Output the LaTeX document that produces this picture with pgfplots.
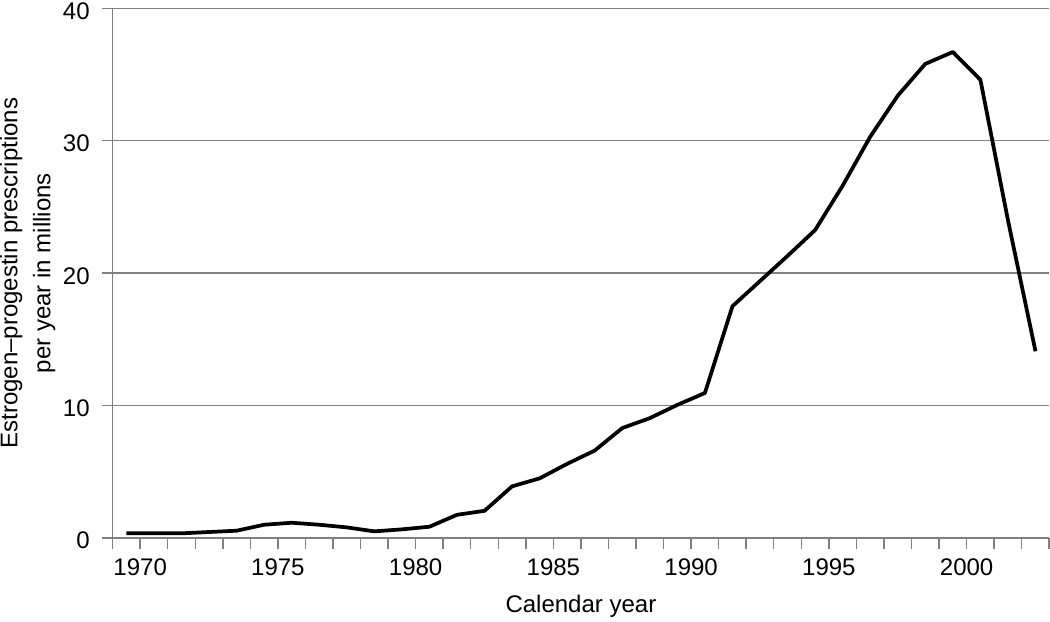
\documentclass[border=0pt]{standalone}
\usepackage{pgfplots}
\pgfplotsset{compat=1.18}
\usepackage{fontspec}
\setmainfont{Liberation Sans}
\definecolor{axgray}{RGB}{128,128,128}
\begin{document}
\begin{tikzpicture}
\begin{axis}[
  scale only axis,
  width=702pt, height=397pt,
  xmin=1969, xmax=2003, ymin=0, ymax=40,
  axis lines*=left,
  axis line style={axgray, line width=1.1pt},
  xtick={1970,1975,...,2000},
  minor xtick={1969,...,2003},
  ytick={0,10,20,30,40},
  tick align=outside,
  major tick length=8pt,
  minor tick length=8pt,
  tick style={axgray, line width=1.1pt},
  ymajorgrids,
  major grid style={axgray, line width=1.1pt},
  /pgf/number format/1000 sep={},
  /pgf/number format/assume math mode=true,
  ticklabel style={font=\fontsize{18}{21}\selectfont, inner sep=0pt},
  xticklabel style={anchor=base, yshift=-20pt},
  yticklabel style={anchor=east, xshift=-9pt, yshift=-2pt},
  label style={font=\fontsize{18}{24.7}\selectfont},
  xlabel={Calendar year},
  xlabel style={at={(axis description cs:0.5,0)}, anchor=base, yshift=-55.5pt},
  ylabel={Estrogen–progestin prescriptions\\per year in millions},
  ylabel style={align=center, at={(axis description cs:-0.0608,0.5)}, anchor=south, inner sep=0pt, overlay},
  clip=false,
]
\addplot[black, line width=2.8pt, line join=round] coordinates {
(1969.5,0.35) (1970.5,0.35) (1971.5,0.35) (1972.5,0.45) (1973.5,0.55)
(1974.5,1.0) (1975.5,1.15) (1976.5,1.0) (1977.5,0.8) (1978.5,0.5)
(1979.5,0.65) (1980.5,0.85) (1981.5,1.75) (1982.5,2.05) (1983.5,3.9)
(1984.5,4.5) (1985.5,5.6) (1986.5,6.6) (1987.5,8.3) (1988.5,9.05)
(1989.5,10.05) (1990.5,10.95) (1991.5,17.5) (1992.5,19.4) (1993.5,21.3)
(1994.5,23.25) (1995.5,26.6) (1996.5,30.3) (1997.5,33.4) (1998.5,35.8)
(1999.5,36.7) (2000.5,34.6) (2001.5,24.0) (2002.5,14.1)
};
\path (rel axis cs:0,1) ++(0pt,6.2pt);
\path (rel axis cs:0,0) ++(-84.4pt,-59.5pt);
\end{axis}
\end{tikzpicture}
\end{document}
